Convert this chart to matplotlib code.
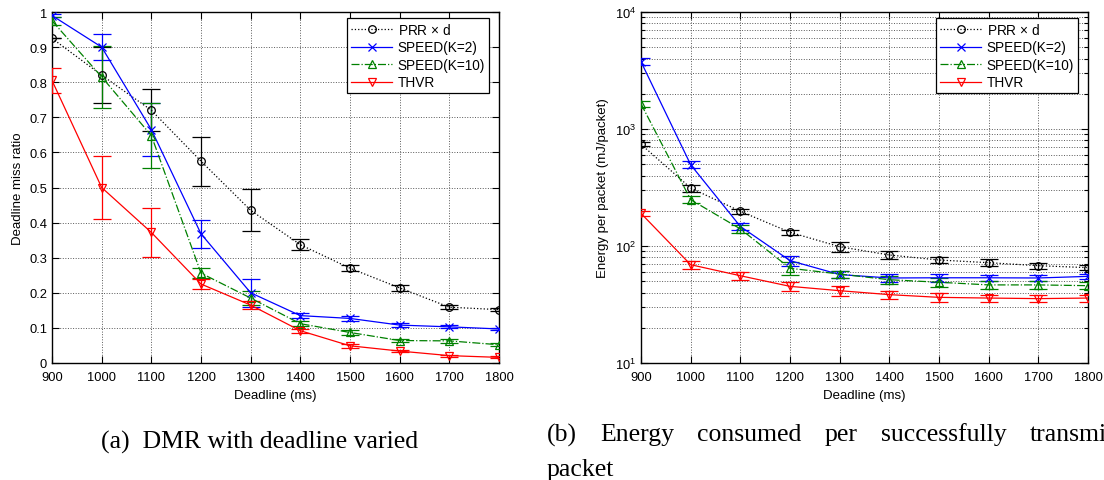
import matplotlib
matplotlib.use("Agg")
import matplotlib.pyplot as plt
from matplotlib.lines import Line2D
from matplotlib.ticker import LogLocator, NullFormatter

# ---- data ----
deadline = [900, 1000, 1100, 1200, 1300, 1400, 1500, 1600, 1700, 1800]
series_names = ["PRR $\\times$ d", "SPEED(K=2)", "SPEED(K=10)", "THVR"]

# Deadline miss ratio
dmr_prr = [0.925, 0.82, 0.72, 0.575, 0.435, 0.337, 0.27, 0.214, 0.159, 0.152]
dmr_prr_err = [0.0, 0.08, 0.06, 0.07, 0.06, 0.015, 0.008, 0.008, 0.006, 0.005]
dmr_speed2 = [0.99, 0.90, 0.665, 0.368, 0.20, 0.135, 0.127, 0.108, 0.103, 0.097]
dmr_speed2_err = [0.005, 0.036, 0.075, 0.04, 0.04, 0.008, 0.006, 0.005, 0.004, 0.004]
dmr_speed10 = [0.975, 0.815, 0.648, 0.256, 0.185, 0.112, 0.087, 0.064, 0.063, 0.052]
dmr_speed10_err = [0.012, 0.088, 0.093, 0.015, 0.02, 0.008, 0.006, 0.005, 0.005, 0.004]
dmr_thvr = [0.805, 0.50, 0.372, 0.225, 0.165, 0.092, 0.049, 0.034, 0.021, 0.016]
dmr_thvr_err = [0.035, 0.09, 0.07, 0.015, 0.012, 0.006, 0.005, 0.004, 0.003, 0.003]

# Energy per successfully transmitted packet (mJ/packet)
en_prr = [740, 313, 198, 131, 98.6, 83.8, 75.9, 72, 67.9, 65.3]
en_prr_err = [30, 22, 10, 7, 9, 6, 5, 5, 4, 3]
en_speed2 = [3760, 495, 147, 75, 57, 53.3, 53.5, 53.5, 53.3, 55]
en_speed2_err = [250, 35, 10, 7, 4, 4, 4, 3, 3, 3]
en_speed10 = [1640, 249, 140, 64.5, 57.6, 51.5, 49, 46.5, 46.5, 45.8]
en_speed10_err = [100, 18, 10, 8, 4, 4, 4, 4, 4, 3]
en_thvr = [190, 69.2, 55.7, 45.2, 41.5, 38.4, 36.4, 35.9, 35.5, 35.9]
en_thvr_err = [8, 5, 4, 4, 4, 3, 3, 2.5, 2.5, 2.5]

x_ticks = deadline
dmr_ticks = [0, 0.1, 0.2, 0.3, 0.4, 0.5, 0.6, 0.7, 0.8, 0.9, 1]
dmr_tick_labels = ["0", "0.1", "0.2", "0.3", "0.4", "0.5", "0.6", "0.7", "0.8", "0.9", "1"]

caption_a = "(a)  DMR with deadline varied"
caption_b_words = ["(b)", "Energy", "consumed", "per", "successfully", "transmitted"]
caption_b_line2 = "packet"

# ---- styles ----
green = (0, 0.5, 0)
styles = [
    dict(color="black", ls=":", marker="o"),
    dict(color="blue", ls="-", marker="x"),
    dict(color=green, ls="-.", marker="^"),
    dict(color="red", ls="-", marker="v"),
]
MS = 5.5

plt.rcParams["font.family"] = ["Liberation Sans", "DejaVu Sans"]
plt.rcParams["mathtext.fontset"] = "custom"
plt.rcParams["mathtext.rm"] = "Liberation Sans"
plt.rcParams["mathtext.it"] = "Liberation Sans"

W, H = 1104, 481
fig = plt.figure(figsize=(W / 100, H / 100), dpi=100)

ax1 = fig.add_axes([52 / W, (H - 364) / H, 447 / W, 351 / H])
ax2 = fig.add_axes([641 / W, (H - 364) / H, 447 / W, 351 / H])


def style_axes(ax):
    for s in ax.spines.values():
        s.set_linewidth(1.0)
        s.set_color("black")
    ax.tick_params(which="both", direction="in", top=True, right=True,
                   labelsize=9.3, width=0.8, colors="black")
    ax.tick_params(which="major", length=5)
    ax.tick_params(which="minor", length=3)
    ax.tick_params(axis="x", pad=6)
    ax.set_xlim(900, 1800)
    ax.set_xticks(x_ticks)
    ax.set_xlabel("Deadline (ms)", fontsize=9.5, labelpad=4)


def draw_series(ax, data):
    for (vals, errs), st in zip(data, styles):
        ax.errorbar(deadline, vals, yerr=errs, color=st["color"], ls=st["ls"],
                    lw=0.9, marker=st["marker"], ms=MS, mfc="none",
                    mew=0.9, capsize=6.5, elinewidth=0.9, capthick=0.9,
                    zorder=3)


def add_legend(ax, right_px):
    handles = [Line2D([], [], color=st["color"], ls=st["ls"], lw=0.9,
                      marker=st["marker"], ms=MS, mfc="none", mew=0.9)
               for st in styles]
    leg = ax.legend(handles, series_names, loc="upper right",
                    bbox_to_anchor=(right_px / W, (H - 19) / H),
                    bbox_transform=fig.transFigure, fontsize=9.8, frameon=True,
                    fancybox=False, edgecolor="black", framealpha=1,
                    handlelength=3.0, handletextpad=0.4, borderpad=0.3,
                    labelspacing=0.25, borderaxespad=0, numpoints=1)
    leg.get_frame().set_linewidth(0.9)


# (a) deadline miss ratio
style_axes(ax1)
draw_series(ax1, [(dmr_prr, dmr_prr_err), (dmr_speed2, dmr_speed2_err),
                  (dmr_speed10, dmr_speed10_err), (dmr_thvr, dmr_thvr_err)])
ax1.set_ylim(0, 1)
ax1.set_yticks(dmr_ticks)
ax1.set_yticklabels(dmr_tick_labels)
ax1.grid(True, which="major", ls=":", color="0.35", lw=0.7)
ax1.set_ylabel("Deadline miss ratio", fontsize=9.5, labelpad=4)
add_legend(ax1, 489)

# (b) energy per packet, log scale
style_axes(ax2)
draw_series(ax2, [(en_prr, en_prr_err), (en_speed2, en_speed2_err),
                  (en_speed10, en_speed10_err), (en_thvr, en_thvr_err)])
ax2.set_yscale("log")
ax2.set_ylim(10, 1e4)
ax2.yaxis.set_major_locator(LogLocator(base=10, numticks=10))
ax2.yaxis.set_minor_locator(LogLocator(base=10, subs=range(2, 10), numticks=20))
ax2.yaxis.set_minor_formatter(NullFormatter())
ax2.grid(True, which="major", ls=":", color="0.35", lw=0.7)
ax2.grid(True, which="minor", axis="y", ls=":", color="0.35", lw=0.7)
ax2.set_ylabel("Energy per packet (mJ/packet)", fontsize=9.5, labelpad=4)
add_legend(ax2, 1078)

# ---- captions (justified first line for (b)) ----
serif = ["Liberation Serif", "DejaVu Serif"]
CAP_FS = 18.5
fig.text(101 / W, 1 - 442 / H, caption_a, fontsize=CAP_FS, family=serif,
         ha="left", va="center")

renderer = fig.canvas.get_renderer()
line_start, last_word_start = 547, 1030
word_texts = [fig.text(0, 1 - 435 / H, w, fontsize=CAP_FS, family=serif,
                       ha="left", va="center") for w in caption_b_words]
widths = [t.get_window_extent(renderer).width for t in word_texts]
gap = (last_word_start - line_start - sum(widths[:-1])) / (len(widths) - 1)
xpos = line_start
for t, w in zip(word_texts, widths):
    t.set_x(xpos / W)
    xpos += w + gap
fig.text(line_start / W, 1 - 470 / H, caption_b_line2, fontsize=CAP_FS,
         family=serif, ha="left", va="center")

fig.savefig("out.png", dpi=100)
